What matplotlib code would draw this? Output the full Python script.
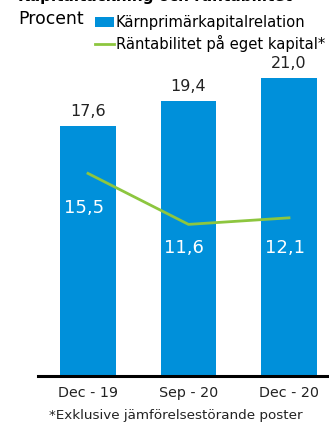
import matplotlib
matplotlib.use('Agg')
import matplotlib.pyplot as plt
from matplotlib.patches import Patch
from matplotlib.lines import Line2D

# data
periods = ['Dec - 19', 'Sep - 20', 'Dec - 20']
karnprimar = [17.6, 19.4, 21.0]
rantabilitet = [15.5, 11.6, 12.1]

blue = '#0090DA'
green = '#8DC63F'
plt.rcParams['font.family'] = ['DejaVu Sans']

fig = plt.figure(figsize=(3.29, 4.24), dpi=100)
ax = fig.add_axes([0.1155, 1 - 376 / 424, 1 - 0.1155, (376 - 40) / 424])
ax2 = ax.twinx()

x = list(range(len(periods)))
bars = ax.bar(x, karnprimar, width=0.557, color=blue, zorder=2)
ax.set_ylim(0, 336 / 14.2)
ax.set_xlim(-0.4975, 2.398)
for xi, v in zip(x, karnprimar):
    ax.annotate(f'{v:.1f}'.replace('.', ','), (xi, v), xytext=(0, 5),
                textcoords='offset points', ha='center', va='bottom',
                fontsize=11.5, color='#222222')

ax2.plot(x, rantabilitet, color=green, lw=2, zorder=3)
ax2.set_ylim(0, 336 / 13.07)
label_dy = [-25, -17, -22]
for xi, v, dy in zip(x, rantabilitet, label_dy):
    ax2.annotate(f'{v:.1f}'.replace('.', ','), (xi, v), xytext=(-3, dy),
                 textcoords='offset points', ha='center', va='center',
                 fontsize=13, color='white')

for a in (ax, ax2):
    for s in ('top', 'right', 'left'):
        a.spines[s].set_visible(False)
    a.set_yticks([])
ax2.spines['bottom'].set_visible(False)
ax.spines['bottom'].set_linewidth(2.2)
ax.spines['bottom'].set_color('black')
ax.set_xticks(x)
ax.set_xticklabels(periods, fontsize=10.3, color='#222222')
ax.tick_params(axis='x', length=0, pad=7)

fig.text(0.055, 0.9976, 'Kapitaltäckning och räntabilitet', fontsize=11,
         fontweight='bold', va='baseline', ha='left')
fig.text(0.055, 1 - 19 / 424, 'Procent', fontsize=12.4, va='center', ha='left')

handles = [Patch(facecolor=blue, edgecolor='none'),
           Line2D([0], [0], color=green, lw=2)]
fig.legend(handles, ['Kärnprimärkapitalrelation', 'Räntabilitet på eget kapital*'],
           loc='upper left', bbox_to_anchor=(0.289, 1 - 15 / 424), frameon=False,
           fontsize=10.6, handlelength=1.3, handletextpad=0.1, labelspacing=0.35,
           borderaxespad=0, borderpad=0)

fig.text(0.535, 1 - 416 / 424, '*Exklusive jämförelsestörande poster', fontsize=9.7,
         va='center', ha='center', color='#222222')

fig.savefig('out.png', dpi=100)
